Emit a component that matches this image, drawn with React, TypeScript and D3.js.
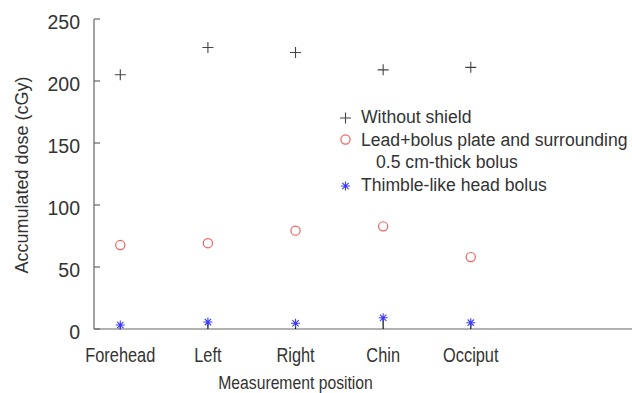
import React, { useEffect, useRef } from 'react';
import * as d3 from 'd3';

const positions = ['Forehead', 'Left', 'Right', 'Chin', 'Occiput'];
const withoutShield = [205, 227, 223, 209, 211];
const leadBolus = [67.7, 69.2, 79.3, 82.8, 58];
const thimble = [3.2, 5.6, 4.6, 9.1, 5.1];
const yTicks = [0, 50, 100, 150, 200, 250];
const legendLines = ['Without shield', 'Lead+bolus plate and surrounding', '0.5 cm-thick bolus', 'Thimble-like head bolus'];

const W = 632;
const H = 393;
const FONT = '"Liberation Sans", Arial, sans-serif';
const TXT = '#333';

const App = () => {
  const svgRef = useRef<SVGSVGElement>(null);

  useEffect(() => {
    const svg = d3.select(svgRef.current);
    svg.selectAll('*').remove();

    const x = d3.scaleLinear().domain([0.7, 6.84]).range([94, 632]);
    const y = d3.scaleLinear().domain([0, 250]).range([329, 19]);

    const g = svg.append('g').attr('font-family', FONT);

    // axes
    g.append('line').attr('x1', 94).attr('x2', 94).attr('y1', y(250)).attr('y2', y(0))
      .attr('stroke', '#666').attr('stroke-width', 1.2);
    g.append('line').attr('x1', 94).attr('x2', W).attr('y1', y(0)).attr('y2', y(0))
      .attr('stroke', '#666').attr('stroke-width', 1.2);

    yTicks.forEach(t => {
      g.append('line').attr('x1', 94).attr('x2', 100).attr('y1', y(t)).attr('y2', y(t))
        .attr('stroke', '#666').attr('stroke-width', 1.2);
      g.append('text').attr('x', 80).attr('y', y(t) + 10).attr('text-anchor', 'end')
        .attr('font-size', 19.5).attr('fill', TXT).text(t);
    });

    // category labels, horizontally condensed like the original
    positions.forEach((p, i) => {
      g.append('text').attr('transform', `translate(${x(i + 1)},362) scale(0.84,1)`)
        .attr('text-anchor', 'middle').attr('font-size', 19.5).attr('fill', TXT).text(p);
    });

    g.append('text').attr('transform', `translate(${x(3)},389) scale(0.85,1)`)
      .attr('text-anchor', 'middle').attr('font-size', 18.5).attr('fill', TXT).text('Measurement position');

    g.append('text').attr('transform', `translate(28,175) rotate(-90)`).attr('text-anchor', 'middle')
      .attr('font-size', 18).attr('fill', TXT).text('Accumulated dose (cGy)');

    // marker helpers
    const plus = (cx: number, cy: number) => {
      g.append('path').attr('d', `M${cx - 5.5},${cy}H${cx + 5.5}M${cx},${cy - 5.5}V${cy + 5.5}`)
        .attr('stroke', '#444').attr('stroke-width', 1.1).attr('fill', 'none');
    };
    const circle = (cx: number, cy: number) => {
      g.append('circle').attr('cx', cx).attr('cy', cy).attr('r', 4.6)
        .attr('fill', 'none').attr('stroke', '#f06060').attr('stroke-width', 1.2);
    };
    const star = (cx: number, cy: number) => {
      const r = 4.5;
      const d = [0, 45, 90, 135].map(a => {
        const rad = (a * Math.PI) / 180;
        const dx = r * Math.cos(rad), dy = r * Math.sin(rad);
        return `M${cx - dx},${cy - dy}L${cx + dx},${cy + dy}`;
      }).join('');
      g.append('path').attr('d', d).attr('stroke', '#3a3aff').attr('stroke-width', 1.1).attr('fill', 'none');
    };

    withoutShield.forEach((v, i) => plus(x(i + 1), y(v)));
    leadBolus.forEach((v, i) => circle(x(i + 1), y(v)));
    thimble.forEach((v, i) => {
      g.append('line').attr('x1', x(i + 1)).attr('x2', x(i + 1)).attr('y1', y(0)).attr('y2', y(v))
        .attr('stroke', '#111').attr('stroke-width', 1.2);
      star(x(i + 1), y(v));
    });

    // legend
    plus(345.5, 118);
    circle(345.5, 139.5);
    star(345.5, 186);
    const legY = [123, 145.5, 168, 190.5];
    legendLines.forEach((t, i) => {
      g.append('text').attr('x', i === 2 ? 376 : 361).attr('y', legY[i])
        .attr('font-size', 17.6).attr('fill', TXT).text(t);
    });
  }, []);

  return (
    <svg ref={svgRef} width={W} height={H}
      style={{ position: 'absolute', left: 0, top: 0, background: '#fff' }} />
  );
};

export default App;
